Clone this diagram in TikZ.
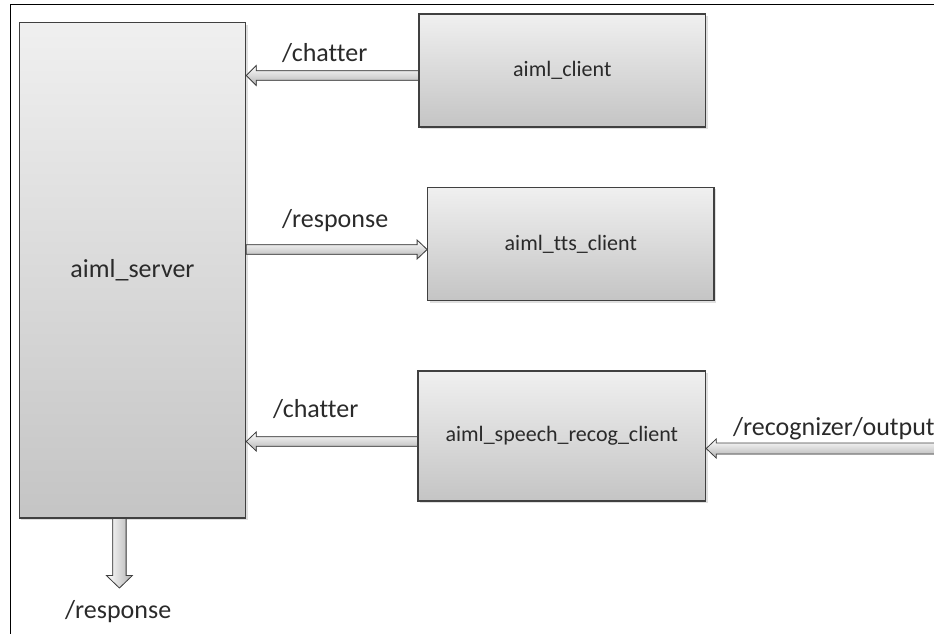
\documentclass[tikz,border=0pt]{standalone}
\usepackage{fontspec}
\setmainfont{Carlito}[Ligatures={NoCommon}]
\usetikzlibrary{calc,shadows}
\definecolor{edge}{HTML}{404040}
\definecolor{txt}{HTML}{2A2A2A}
\newcommand\blockarr[6][]{% options, tail, tip, shaft half, head half, head length
  \coordinate (hb) at ($(#3)!#6!(#2)$);
  \filldraw[arrowbody,#1] ($(#2)!#4!90:(#3)$) -- ($(hb)!#4!90:(#3)$) -- ($(hb)!#5!90:(#3)$) -- (#3)
    -- ($(hb)!#5!-90:(#3)$) -- ($(hb)!#4!-90:(#3)$) -- ($(#2)!#4!-90:(#3)$) -- cycle;}
\tikzset{
  box/.style={draw=edge, line width=1.1pt, inner sep=0pt, top color=black!6, bottom color=black!23,
    text=txt, font=\fontsize{22}{26}\selectfont,
    drop shadow={shadow xshift=2pt, shadow yshift=-2pt, opacity=0.25, fill=black!50}},
  lbl/.style={text=txt, font=\fontsize{26}{30}\selectfont, inner sep=0pt, anchor=base west},
  arrowbody/.style={draw=edge, line width=0.8pt, line join=miter, top color=white, bottom color=black!30},
  frame/.style={draw=black, line width=1pt}
}
\begin{document}
\begin{tikzpicture}[x=1pt,y=-1pt]
\useasboundingbox (0,0) rectangle (934,634);
\draw[frame] (10,640) -- (10,5) -- (940,5);

\node[box, minimum width=226.4pt, minimum height=495.3pt, font=\fontsize{26}{30}\selectfont] (server) at (132.5,270.3) {aiml\_server};
\node[box, minimum width=286.7pt, minimum height=113pt] (client) at (562.3,70.5) {aiml\_client};
\node[box, minimum width=286.3pt, minimum height=113.4pt] (tts) at (570.8,244) {aiml\_tts\_client};
\node[box, minimum width=287.7pt, minimum height=130pt] (speech) at (561.8,436) {aiml\_speech\_recog\_client};

% connector end points
\coordinate (c1t) at ([yshift=-5pt]client.west);
\coordinate (c1h) at (c1t -| server.east);
\coordinate (r1h) at ([yshift=-5.5pt]tts.west);
\coordinate (r1t) at (r1h -| server.east);
\coordinate (c2t) at ([yshift=-5.5pt]speech.west);
\coordinate (c2h) at (c2t -| server.east);
\coordinate (rech) at ([yshift=-12.5pt]speech.east);
\coordinate (rect) at (rech -| 950,0);
\coordinate (outt) at (server.south -| 119.4,0);
\coordinate (outh) at (119.4,588);

\blockarr{c1t}{c1h}{4.8pt}{10pt}{10pt}
\blockarr{r1t}{r1h}{4.8pt}{9.5pt}{10pt}
\blockarr{c2t}{c2h}{4.8pt}{9.5pt}{10pt}
\blockarr{rect}{rech}{5.5pt}{9.5pt}{10pt}
\blockarr[left color=white, right color=black!30]{outt}{outh}{6.7pt}{13pt}{12.5pt}

\node[lbl] (l1) at (282,61.7) {/chatter};
\node[lbl] (l2) at (282,227.7) {/response};
\node[lbl] (l3) at (273,417) {/chatter};
\node[lbl] (l4) at (733,435) {/recognizer/output};
\node[lbl] (l5) at (65,618) {/response};
\end{tikzpicture}
\end{document}
